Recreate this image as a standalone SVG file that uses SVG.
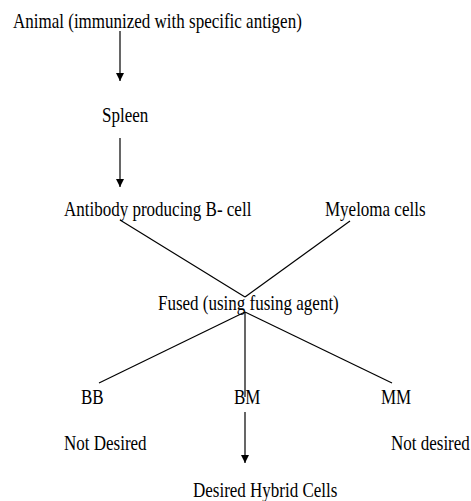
<svg xmlns="http://www.w3.org/2000/svg" width="471" height="501" viewBox="0 0 471 501">
<style>
text{font-family:"Liberation Serif","Times New Roman",serif;font-size:17px;fill:#000}
.ln{stroke:#000;stroke-width:1.2;fill:none}
</style>
<defs>
<marker id="ah" markerUnits="userSpaceOnUse" markerWidth="8" markerHeight="10" refX="8" refY="4" orient="auto">
<path d="M0,0 L8,4 L0,8 Z" fill="#000"/>
</marker>
</defs>
<rect width="471" height="501" fill="#fff"/>
<g id="animal" transform="translate(13,27.5) scale(1,1.25)"><text x="0" y="0">Animal (immunized with specific antigen)</text></g>
<g id="spleen" transform="translate(102,121.5) scale(1,1.25)"><text x="0" y="0">Spleen</text></g>
<g id="bcell" transform="translate(64,216) scale(1,1.25)"><text x="0" y="0">Antibody producing B- cell</text></g>
<g id="myeloma" transform="translate(325,216) scale(1,1.25)"><text x="0" y="0">Myeloma cells</text></g>
<g id="fused" transform="translate(158,310) scale(1,1.25)"><text x="0" y="0">Fused (using fusing agent)</text></g>
<g id="bb" transform="translate(81,404) scale(1,1.25)"><text x="0" y="0">BB</text></g>
<g id="bm" transform="translate(234,404) scale(1,1.25)"><text x="0" y="0">BM</text></g>
<g id="mm" transform="translate(381,404) scale(1,1.25)"><text x="0" y="0">MM</text></g>
<g id="notdesired1" transform="translate(64,450) scale(1,1.25)"><text x="0" y="0">Not Desired</text></g>
<g id="notdesired2" transform="translate(391,450) scale(1,1.25)"><text x="0" y="0">Not desired</text></g>
<g id="hybrid" transform="translate(193,497) scale(1,1.25)"><text x="0" y="0">Desired Hybrid Cells</text></g>
<g id="connectors">
<line class="ln" x1="120" y1="31" x2="120" y2="81" marker-end="url(#ah)"/>
<line class="ln" x1="120" y1="138" x2="120" y2="187" marker-end="url(#ah)"/>
<line class="ln" x1="120" y1="220" x2="245" y2="297"/>
<line class="ln" x1="350" y1="221" x2="245" y2="297"/>
<line class="ln" x1="245" y1="312" x2="99" y2="383"/>
<line class="ln" x1="245" y1="312" x2="392" y2="383"/>
<line class="ln" x1="245" y1="312" x2="245" y2="397"/>
<line class="ln" x1="245" y1="412" x2="245" y2="463" marker-end="url(#ah)"/>
</g>
</svg>
